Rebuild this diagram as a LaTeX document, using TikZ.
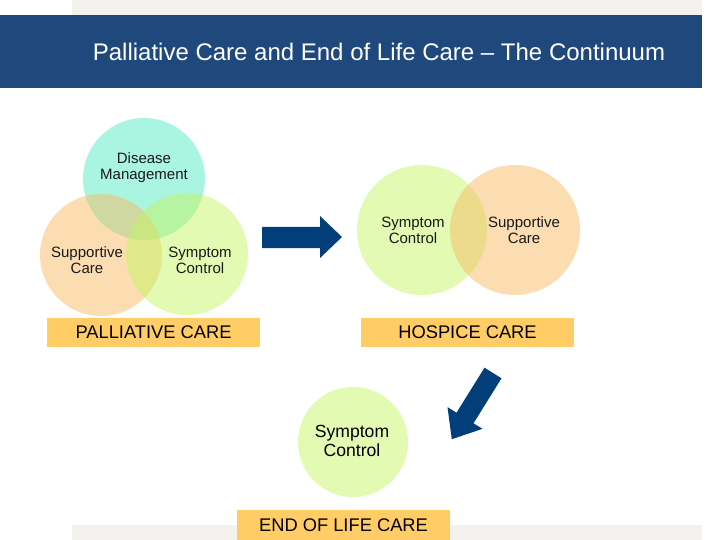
\documentclass[tikz,border=0pt]{standalone}
\usepackage{fontspec}
\setmainfont{Liberation Sans}
\definecolor{bandgrey}{RGB}{243,242,238}
\definecolor{titleblue}{RGB}{31,73,125}
\definecolor{arrowblue}{RGB}{2,62,122}
\definecolor{mint}{RGB}{85,235,195}
\definecolor{peach}{RGB}{247,188,100}
\definecolor{lgreen}{RGB}{198,245,100}
\definecolor{boxorange}{RGB}{255,204,102}
\definecolor{txt}{RGB}{25,25,25}
\tikzset{
  ctext/.style={align=center, text=txt, font=\fontsize{15}{16}\selectfont},
  carebox/.style={fill=boxorange, minimum height=29pt, inner sep=0pt, text=black, font=\fontsize{18.3}{20}\selectfont},
  bigarrow/.style={fill=arrowblue, draw=none}
}
\begin{document}
\begin{tikzpicture}[x=1pt,y=-1pt]
\useasboundingbox (0,0) rectangle (720,540);
% bands
\fill[bandgrey] (72,0) rectangle (702,15);
\fill[titleblue] (0,15) rectangle (702,88);
\fill[bandgrey] (72,525) rectangle (702,540);
\node[text=white, font=\fontsize{24}{28}\selectfont] (title) at (379,52) {Palliative Care and End of Life Care -- The Continuum};
% palliative venn
\fill[mint, fill opacity=0.5] (144,179) circle (61);
\fill[peach, fill opacity=0.5] (101,255) circle (61);
\fill[lgreen, fill opacity=0.5] (187,254) circle (61);
\node[ctext] (dm) at (144,168) {Disease\\Management};
\node[ctext] (sc1) at (87,260) {Supportive\\Care};
\node[ctext] (sy1) at (200,260) {Symptom\\Control};
\node[carebox, minimum width=213pt] (pal) at (153.5,332.5) {PALLIATIVE CARE};
% right arrow
\fill[bigarrow] (262,227) -- (320,227) -- (320,216) -- (342,237) -- (320,258) -- (320,248) -- (262,248) -- cycle;
% hospice venn
\fill[lgreen, fill opacity=0.5] (422,230) circle (65);
\fill[peach, fill opacity=0.5] (515,230) circle (65);
\node[ctext] (sy2) at (413,230) {Symptom\\Control};
\node[ctext] (sc2) at (524,230) {Supportive\\Care};
\node[carebox, minimum width=213pt] (hos) at (467.5,332.5) {HOSPICE CARE};
% diagonal arrow
\fill[bigarrow] (501.5,378.3) -- (484.5,367.7) -- (456.5,412.7) -- (447.5,407.1) -- (451.8,439.2) -- (482.5,428.8) -- (473.5,423.3) -- cycle;
% end of life
\fill[lgreen, fill opacity=0.5] (353,442) circle (55);
\node[align=center, text=black, font=\fontsize{17.6}{19}\selectfont] (sy3) at (352,441) {Symptom\\Control};
\node[carebox, minimum width=213pt, minimum height=30pt] (eol) at (343.5,525) {END OF LIFE CARE};
\end{tikzpicture}
\end{document}
